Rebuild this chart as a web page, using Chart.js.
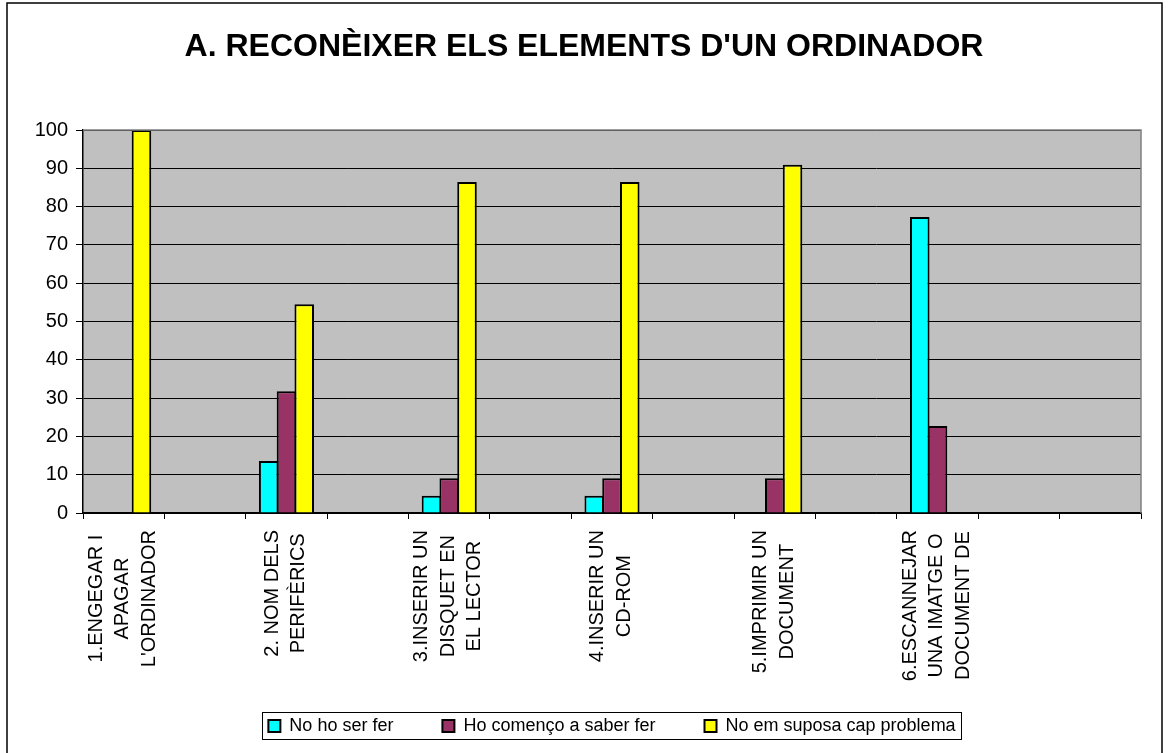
<!DOCTYPE html>
<html>
<head>
<meta charset="utf-8">
<script src="https://cdn.jsdelivr.net/npm/chart.js@4/dist/chart.umd.min.js"></script>
<style>
  html, body { margin: 0; padding: 0; background: #fff; }
  #wrap { width: 1168px; height: 753px; position: relative; }
</style>
</head>
<body>
<div id="wrap"><canvas id="chart"></canvas></div>
<script>
// Categories (13 slots, only the odd ones carry a label in the original)
const categories = [
    ['1.ENGEGAR I', 'APAGAR', "L'ORDINADOR"], [],
    ['2. NOM DELS', 'PERIFÈRICS'], [],
    ['3.INSERIR UN', 'DISQUET EN', 'EL LECTOR'], [],
    ['4.INSERIR UN', 'CD-ROM'], [],
    ['5.IMPRIMIR UN', 'DOCUMENT'], [],
    ['6.ESCANNEJAR', 'UNA IMATGE O', 'DOCUMENT DE'], [],
    []
];
const seriesNames = ['No ho ser fer', 'Ho començo a saber fer', 'No em suposa cap problema'];
const noHoSe = [0, null, 13.6, null, 4.5, null, 4.5, null, 0, null, 77.3, null, null];
const comenco = [0, null, 31.8, null, 9.1, null, 9.1, null, 9.1, null, 22.7, null, null];
const capProblema = [100, null, 54.5, null, 86.4, null, 86.4, null, 90.9, null, 0, null, null];
const yTicks = [0, 10, 20, 30, 40, 50, 60, 70, 80, 90, 100];

const FONT = 'Arial, "Liberation Sans", sans-serif';

// grey plot area + outer frame
const background = {
    id: 'background',
    beforeDraw(chart) {
        const ctx = chart.ctx;
        const a = chart.chartArea;
        ctx.save();
        ctx.fillStyle = '#fff';
        ctx.fillRect(0, 0, chart.width, chart.height);
        ctx.strokeStyle = '#000';
        ctx.lineWidth = 1.5;
        ctx.strokeRect(7, 3, 1155, 800);
        ctx.fillStyle = '#C0C0C0';
        ctx.fillRect(a.left, a.top, a.right - a.left, a.bottom - a.top);
        ctx.restore();
    },
    afterDatasetsDraw(chart) {
        const ctx = chart.ctx;
        const a = chart.chartArea;
        ctx.save();
        ctx.strokeStyle = '#808080';
        ctx.lineWidth = 1.5;
        ctx.beginPath();
        ctx.moveTo(a.left, a.top);
        ctx.lineTo(a.right, a.top);
        ctx.lineTo(a.right, a.bottom);
        ctx.stroke();
        ctx.restore();
    }
};

// vertical multi-line category labels, centred lines like Excel
const rotLabels = {
    id: 'rotLabels',
    afterDraw(chart) {
        const ctx = chart.ctx;
        const xs = chart.scales.x;
        ctx.save();
        ctx.font = '20px ' + FONT;
        ctx.fillStyle = '#000';
        ctx.textAlign = 'center';
        ctx.textBaseline = 'middle';
        categories.forEach((lines, i) => {
            if (!lines.length) return;
            const x = xs.getPixelForValue(i) - 1;
            const maxW = Math.max(...lines.map(l => ctx.measureText(l).width));
            ctx.save();
            ctx.translate(x, xs.top + 17);
            ctx.rotate(-Math.PI / 2);
            lines.forEach((l, j) => {
                ctx.fillText(l, -maxW / 2, (j - (lines.length - 1) / 2) * 26.5);
            });
            ctx.restore();
        });
        ctx.restore();
    }
};

// frame around the legend items
const legendFrame = {
    id: 'legendFrame',
    afterDraw(chart) {
        const hb = chart.legend.legendHitBoxes;
        if (!hb || !hb.length) return;
        const ctx = chart.ctx;
        const left = hb[0].left - 6;
        const last = hb[hb.length - 1];
        const right = last.left + last.width + 6;
        const top = hb[0].top - 5;
        const h = hb[0].height + 9;
        ctx.save();
        ctx.strokeStyle = '#000';
        ctx.lineWidth = 1;
        ctx.strokeRect(Math.round(left) + 0.5, Math.round(top) + 0.5, Math.round(right - left), Math.round(h));
        ctx.restore();
    }
};

const colors = ['#00FFFF', '#993366', '#FFFF00'];
const values = [noHoSe, comenco, capProblema];

new Chart(document.getElementById('chart'), {
    type: 'bar',
    data: {
        labels: categories.map(c => c.join(' ')),
        datasets: values.map((v, i) => ({
            label: seriesNames[i],
            data: v,
            backgroundColor: colors[i],
            borderColor: '#000',
            borderWidth: 2,
            borderSkipped: 'bottom',
            barPercentage: 1.1,
            categoryPercentage: 0.655
        }))
    },
    options: {
        responsive: true,
        maintainAspectRatio: false,
        animation: false,
        layout: { padding: { left: 27, right: 27, top: 10, bottom: 8 } },
        plugins: {
            tooltip: { enabled: false },
            title: {
                display: true,
                text: "A. RECONÈIXER ELS ELEMENTS D'UN ORDINADOR",
                color: '#000',
                font: { family: FONT, size: 32, weight: 'bold', lineHeight: '36px' },
                padding: { top: 19, bottom: 65 }
            },
            legend: {
                position: 'bottom',
                fullSize: false,
                labels: {
                    color: '#000',
                    font: { family: FONT, size: 18 },
                    boxWidth: 12,
                    boxHeight: 12,
                    padding: 49
                }
            }
        },
        scales: {
            x: {
                afterFit(s) { s.height = 155; },
                grid: {
                    offset: true,
                    drawOnChartArea: false,
                    drawTicks: true,
                    tickLength: 6,
                    color: '#000'
                },
                border: { display: true, color: '#000', width: 1.5 },
                ticks: { display: false }
            },
            y: {
                min: 0,
                max: 100,
                afterFit(s) { s.width = 56; },
                afterBuildTicks(s) { s.ticks = yTicks.map(v => ({ value: v })); },
                grid: { color: '#000', lineWidth: 1, tickLength: 7, drawTicks: true },
                border: { display: true, color: '#000', width: 1.5 },
                ticks: {
                    color: '#000',
                    padding: 8,
                    font: { family: FONT, size: 20 }
                }
            }
        }
    },
    plugins: [background, rotLabels, legendFrame]
});
</script>
</body>
</html>
